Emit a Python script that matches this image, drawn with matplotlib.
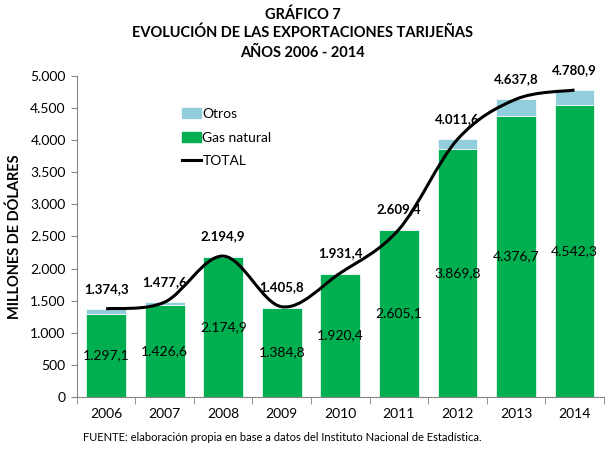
import numpy as np
from matplotlib import pyplot as plt
from matplotlib.path import Path
from matplotlib.patches import PathPatch, Patch
from matplotlib.lines import Line2D

# data (millions of USD)
years = ['2006', '2007', '2008', '2009', '2010', '2011', '2012', '2013', '2014']
gas = [1297.1, 1426.6, 2174.9, 1384.8, 1920.4, 2605.1, 3869.8, 4376.7, 4542.3]
total = [1374.3, 1477.6, 2194.9, 1405.8, 1931.4, 2609.4, 4011.6, 4637.8, 4780.9]
otros = [t - g for t, g in zip(total, gas)]

green = '#00B050'
blue = '#92CDDC'

plt.rcParams['font.family'] = ['Lato', 'DejaVu Sans']


def fmt(v):
    s = '{:,.1f}'.format(v)
    return s.replace(',', 'X').replace('.', ',').replace('X', '.')


fig = plt.figure(figsize=(6.05, 4.49), dpi=100)
ax = fig.add_axes([0.127, 0.1158, 0.871, 0.715])

x = np.arange(len(years))
ax.bar(x, gas, width=0.68, color=green, edgecolor='white', linewidth=0.5, zorder=2)
ax.bar(x, otros, bottom=gas, width=0.68, color=blue, edgecolor='white', linewidth=0.5, zorder=2)

# smoothed total line (Catmull-Rom drawn as cubic bezier)
pts = np.column_stack([x, total])
verts = [pts[0]]
codes = [Path.MOVETO]
for i in range(len(pts) - 1):
    p0 = pts[max(i - 1, 0)]
    p1 = pts[i]
    p2 = pts[i + 1]
    p3 = pts[min(i + 2, len(pts) - 1)]
    c1 = p1 + (p2 - p0) / 6.0
    c2 = p2 - (p3 - p1) / 6.0
    verts += [c1, c2, p2]
    codes += [Path.CURVE4] * 3
ax.add_patch(PathPatch(Path(verts, codes), facecolor='none', edgecolor='black', lw=2.2, zorder=3))

for i in range(len(years)):
    ax.text(x[i], gas[i] / 2, fmt(gas[i]), ha='center', va='center', fontsize=10, zorder=4)
    ax.annotate(fmt(total[i]), (x[i], total[i]), xytext=(0, 10), textcoords='offset points',
                ha='center', va='bottom', fontsize=9.5, fontweight='bold', zorder=4)

ax.set_xlim(-0.5, len(years) - 0.5)
ax.set_ylim(0, 5000)
ax.set_yticks(np.arange(0, 5001, 500))
ax.set_yticklabels([fmt(v)[:-2] if v >= 1000 else str(int(v)) for v in np.arange(0, 5001, 500)])
ax.set_xticks(x)
ax.set_xticklabels(years)
ax.set_xticks(np.arange(-0.5, len(years), 1), minor=True)
ax.tick_params(axis='x', which='major', length=0, pad=8, labelsize=10)
ax.tick_params(axis='x', which='minor', length=5, color='#868686', direction='out')
ax.tick_params(axis='y', length=4, color='#868686', labelsize=10, pad=4)
for s in ['top', 'right']:
    ax.spines[s].set_visible(False)
ax.spines['left'].set_color('#868686')
ax.spines['bottom'].set_color('#868686')
ax.set_ylabel('MILLONES DE DÓLARES', fontsize=10.5, fontweight='bold', labelpad=6)

handles = [Patch(color=blue), Patch(color=green), Line2D([0], [0], color='black', lw=2.2)]
ax.legend(handles, ['Otros', 'Gas natural', 'TOTAL'], loc='upper left', bbox_to_anchor=(0.175, 0.94),
          frameon=False, fontsize=10, handlelength=1.4, handletextpad=0.1, labelspacing=0.85)

fig.text(0.5, 0.968, 'GRÁFICO 7', ha='center', va='center', fontsize=10.5, fontweight='bold')
fig.text(0.5, 0.926, 'EVOLUCIÓN DE LAS EXPORTACIONES TARIJEÑAS', ha='center', va='center',
         fontsize=10.5, fontweight='bold')
fig.text(0.5, 0.882, 'AÑOS 2006 - 2014', ha='center', va='center', fontsize=10.5, fontweight='bold')
fig.text(0.137, 0.025, 'FUENTE: elaboración propia en base a datos del Instituto Nacional de Estadística.',
         ha='left', va='center', fontsize=8)

fig.savefig('out.png', dpi=100)
